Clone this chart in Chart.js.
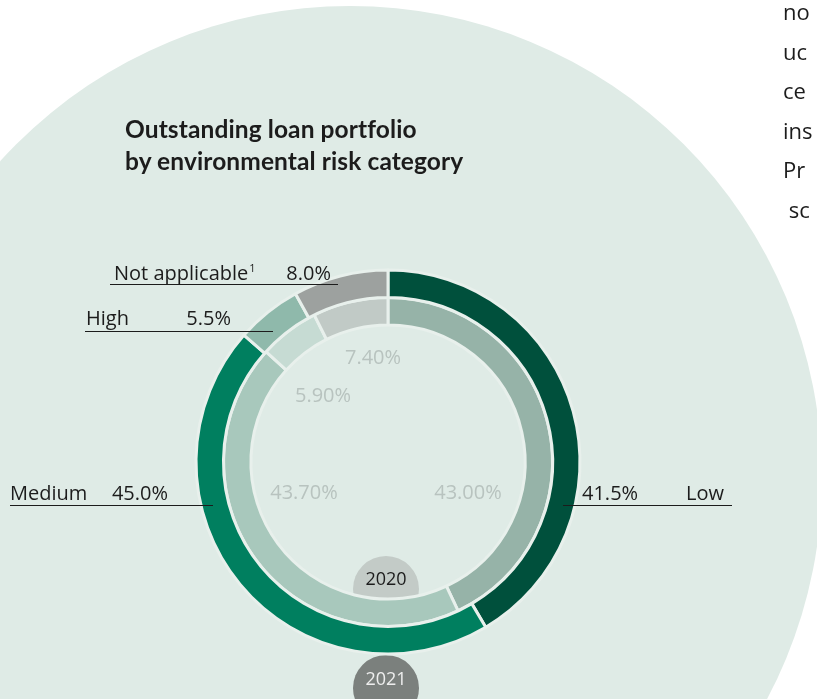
<!DOCTYPE html>
<html>
<head>
<meta charset="utf-8">
<script src="https://cdn.jsdelivr.net/npm/chart.js@4"></script>
<style>
  html, body { margin: 0; padding: 0; background: #fff; overflow: hidden; }
  #wrap { position: relative; width: 817px; height: 699px; }
  #chart { position: absolute; left: 0; top: 0; }
  .title {
    position: absolute; left: 125px; top: 113px;
    font-family: Lato, sans-serif; font-weight: 700; font-size: 24.5px;
    line-height: 32px; color: #1c1c1c; letter-spacing: 0.1px;
  }
  .side {
    position: absolute; left: 783px; top: -8px;
    font-family: "Open Sans", sans-serif; font-size: 22px;
    line-height: 39.5px; color: #1c1c1c; white-space: pre;
  }
</style>
</head>
<body>
<div id="wrap">
  <canvas id="chart" width="817" height="699"></canvas>
  <div class="title">Outstanding loan portfolio<br>by environmental risk category</div>
  <div class="side">no
uc
ce
ins
Pr
 sc</div>
</div>
<script>
// data
const categories = ["Low", "Medium", "High", "Not applicable"];
const values2021 = [41.5, 45.0, 5.5, 8.0];
const values2020 = [43.0, 43.7, 5.9, 7.4];
const years = ["2021", "2020"];

const colors2021 = ["#00503c", "#007f5f", "#8fb9ab", "#9da19f"];
const colors2020 = ["#96b3a8", "#a8c8bc", "#c6dbd3", "#c1cac6"];
const gapColor = "#e8f0ec";

// label layout for the outer ring (2021), by category
const outerLabels = [
  { name: "Low", valueX: 582, nameX: 724, base: 500, line: [563, 732, 505], valueFirst: true },
  { name: "Medium", nameX: 10, valueX: 168, base: 500, line: [10, 213, 505] },
  { name: "High", nameX: 86, valueX: 231, base: 325, line: [85, 273, 331] },
  { name: "Not applicable", sup: "1", nameX: 114, valueX: 331, base: 280, line: [110, 338, 284] },
];
// offsets from the doughnut center for the 2020 values
const innerLabelPos = [[80, 30], [-84, 30], [-65, -67], [-15, -105]];

const LABEL_FONT = "20px 'Open Sans', sans-serif";

const backdrop = {
  id: "backdrop",
  beforeDraw(chart) {
    const ctx = chart.ctx;
    ctx.save();
    ctx.fillStyle = "#dfebe6";
    ctx.beginPath();
    ctx.arc(350, 478, 472, 0, Math.PI * 2);
    ctx.fill();
    ctx.restore();
  },
  beforeDatasetsDraw(chart) {
    // year badges sit under the rings
    const ctx = chart.ctx;
    const arc = chart.getDatasetMeta(1).data[0];
    const cx = arc.x, cy = arc.y;
    ctx.save();
    ctx.fillStyle = "#c3cbc7";
    ctx.beginPath();
    ctx.arc(cx - 2, cy + 127, 33, 0, Math.PI * 2);
    ctx.fill();
    ctx.fillStyle = "#7b807d";
    ctx.beginPath();
    ctx.arc(cx - 2, cy + 226, 33, 0, Math.PI * 2);
    ctx.fill();
    ctx.restore();
  },
  afterDraw(chart) {
    const ctx = chart.ctx;
    const arc = chart.getDatasetMeta(1).data[0];
    const cx = arc.x, cy = arc.y;
    ctx.save();
    ctx.textBaseline = "alphabetic";

    // year labels
    ctx.font = "18px 'Open Sans', sans-serif";
    ctx.textAlign = "center";
    ctx.fillStyle = "#1c1c1c";
    ctx.fillText(years[1], cx - 2, cy + 123);
    ctx.fillStyle = "#eeeeee";
    ctx.fillText(years[0], cx - 2, cy + 223);

    // 2020 values inside the hole
    ctx.font = "20px 'Open Sans', sans-serif";
    ctx.fillStyle = "#b8c3bf";
    values2020.forEach((v, i) => {
      const p = innerLabelPos[i];
      ctx.fillText(v.toFixed(2) + "%", cx + p[0], cy + p[1] + 7);
    });

    // 2021 labels with leader lines
    ctx.strokeStyle = "#1c1c1c";
    ctx.lineWidth = 1;
    ctx.fillStyle = "#1c1c1c";
    outerLabels.forEach((lab, i) => {
      const val = values2021[i].toFixed(1) + "%";
      ctx.font = LABEL_FONT;
      if (lab.valueFirst) {
        ctx.textAlign = "left";
        ctx.fillText(val, lab.valueX, lab.base);
        ctx.textAlign = "right";
        ctx.fillText(lab.name, lab.nameX, lab.base);
      } else {
        ctx.textAlign = "left";
        ctx.fillText(lab.name, lab.nameX, lab.base);
        if (lab.sup) {
          const w = ctx.measureText(lab.name).width;
          ctx.font = "11px 'Open Sans', sans-serif";
          ctx.fillText(lab.sup, lab.nameX + w + 1, lab.base - 8);
          ctx.font = LABEL_FONT;
        }
        ctx.textAlign = "right";
        ctx.fillText(val, lab.valueX, lab.base);
      }
      ctx.beginPath();
      ctx.moveTo(lab.line[0], lab.line[2] + 0.5);
      ctx.lineTo(lab.line[1], lab.line[2] + 0.5);
      ctx.stroke();
    });
    ctx.restore();
  },
};

new Chart(document.getElementById("chart"), {
  type: "doughnut",
  data: {
    labels: categories,
    datasets: [
      {
        label: years[0],
        data: values2021,
        backgroundColor: colors2021,
        borderColor: gapColor,
        borderWidth: 3,
        hoverOffset: 0,
      },
      {
        label: years[1],
        data: values2020,
        backgroundColor: colors2020,
        borderColor: gapColor,
        borderWidth: 3,
        hoverOffset: 0,
      },
    ],
  },
  options: {
    responsive: false,
    animation: false,
    radius: 192,
    cutout: "71.4%",
    layout: { padding: { left: 0, right: 41, top: 225, bottom: 0 } },
    plugins: {
      legend: { display: false },
      tooltip: { enabled: false },
    },
  },
  plugins: [backdrop],
});
</script>
</body>
</html>
